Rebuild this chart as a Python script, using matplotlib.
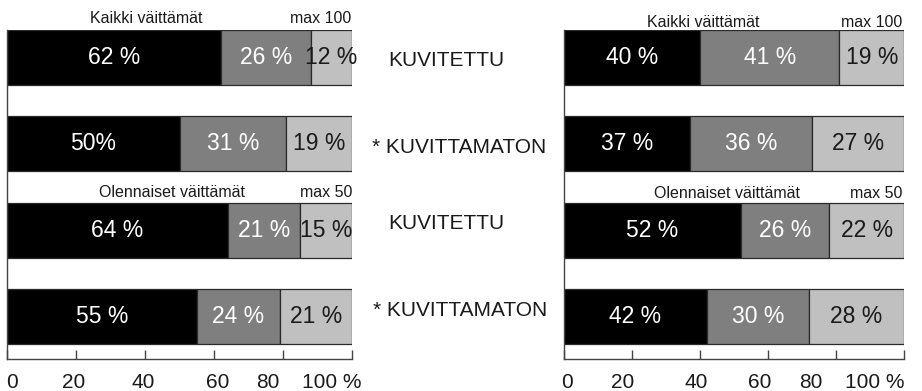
import matplotlib
matplotlib.use("Agg")
import matplotlib.pyplot as plt
import matplotlib.transforms as mtransforms

plt.rcParams['font.family'] = ['Liberation Sans', 'DejaVu Sans']

# ---- data ----
rows = ["Kaikki kuvitettu", "Kaikki kuvittamaton", "Olennaiset kuvitettu", "Olennaiset kuvittamaton"]
left_black = [62, 50, 64, 55]
left_dark = [26, 31, 21, 24]
left_light = [12, 19, 15, 21]
left_labels = [["62 %", "26 %", "12 %"], ["50%", "31 %", "19 %"],
               ["64 %", "21 %", "15 %"], ["55 %", "24 %", "21 %"]]

right_black = [40, 37, 52, 42]
right_dark = [41, 36, 26, 30]
right_light = [19, 27, 22, 28]
right_labels = [["40 %", "41 %", "19 %"], ["37 %", "36 %", "27 %"],
                ["52 %", "26 %", "22 %"], ["42 %", "30 %", "28 %"]]

row_names = ["KUVITETTU", "* KUVITTAMATON", "KUVITETTU", "* KUVITTAMATON"]
headers = ["Kaikki väittämät", "Olennaiset väittämät"]
maxes = ["max 100", "max 50"]
ticks = [0, 20, 40, 60, 80, 100]
tick_labels = ["0", "20", "40", "60", "80", "100 %"]

# ---- styling ----
W, H = 922, 391
colors = ["#000000", "#7f7f7f", "#c0c0c0"]
text_colors = ["white", "white", "#1a1a1a"]
edge = "#2a2a2a"
axis_col = "#444444"

fig = plt.figure(figsize=(W / 100, H / 100), dpi=100)


def fx(x):
    return x / W


def fy(y):
    return 1 - y / H


def make_axes(x0, x1):
    ax = fig.add_axes([fx(x0), fy(359), fx(x1) - fx(x0), fy(30) - fy(359)])
    return ax


ax_l = make_axes(7, 352)
ax_r = make_axes(564, 904)

bar_h = 0.637
ypos = list(range(len(rows)))


def draw_panel(ax, blacks, darks, lights, labels, label_offsets):
    ax.set_xlim(0, 100)
    ax.set_ylim(3 + 0.4925, -0.3185)
    segs = [blacks, darks, lights]
    lefts = [0] * len(rows)
    for si, seg in enumerate(segs):
        ax.barh(ypos, seg, left=lefts, height=bar_h, color=colors[si],
                edgecolor=edge, linewidth=0.9, zorder=2)
        for ri in range(len(rows)):
            ax.text(lefts[ri] + seg[ri] / 2, ypos[ri], labels[ri][si],
                    ha="center", va="center", fontsize=16.5,
                    color=text_colors[si], zorder=3, clip_on=False)
        lefts = [a + b for a, b in zip(lefts, seg)]
    for s in ["top", "right"]:
        ax.spines[s].set_visible(False)
    for s in ["left", "bottom"]:
        ax.spines[s].set_color(axis_col)
        ax.spines[s].set_linewidth(1.0)
    ax.set_yticks([])
    ax.set_xticks(ticks)
    ax.tick_params(axis="x", direction="in", length=6.5, width=1.0,
                   color=axis_col, labelbottom=False)
    trans = mtransforms.blended_transform_factory(ax.transData, ax.transAxes)
    for t, lab, off in zip(ticks, tick_labels, label_offsets):
        tr = trans + mtransforms.ScaledTranslation(off / 100, -24 / 100, fig.dpi_scale_trans)
        ax.text(t, 0, lab, transform=tr, ha="center", va="center",
                fontsize=15, color="#1a1a1a", clip_on=False)


draw_panel(ax_l, left_black, left_dark, left_light, left_labels,
           [5, -2, -2, 4, -15, -20])
draw_panel(ax_r, right_black, right_dark, right_light, right_labels,
           [3, -9, -4, -8, -25, -29])

# headers
fig.text(fx(146), fy(23), headers[0], ha="center", va="baseline", fontsize=11.5, color="#1a1a1a")
fig.text(fx(351), fy(23), maxes[0], ha="right", va="baseline", fontsize=11.5, color="#1a1a1a")
fig.text(fx(172), fy(197), headers[1], ha="center", va="baseline", fontsize=11.5, color="#1a1a1a")
fig.text(fx(352), fy(197), maxes[1], ha="right", va="baseline", fontsize=11.5, color="#1a1a1a")
fig.text(fx(703), fy(27), headers[0], ha="center", va="baseline", fontsize=11.5, color="#1a1a1a")
fig.text(fx(902), fy(27), maxes[0], ha="right", va="baseline", fontsize=11.5, color="#1a1a1a")
fig.text(fx(727), fy(198), headers[1], ha="center", va="baseline", fontsize=11.5, color="#1a1a1a")
fig.text(fx(902), fy(198), maxes[1], ha="right", va="baseline", fontsize=11.5, color="#1a1a1a")

# row names between panels
name_x = [388, 372, 388, 373]
name_y = [61, 147.5, 223, 311]
for nm, x, y in zip(row_names, name_x, name_y):
    fig.text(fx(x), fy(y), nm, ha="left", va="center", fontsize=15, color="#1a1a1a")

fig.savefig("out.png", dpi=100)
